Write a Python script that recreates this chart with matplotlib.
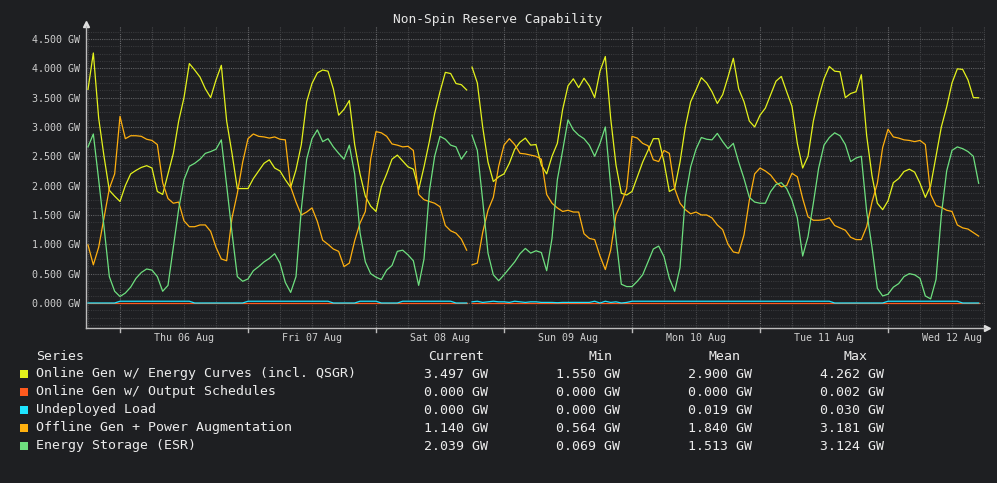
import numpy as np
import pandas as pd
import matplotlib
matplotlib.use('Agg')
import matplotlib.pyplot as plt
import matplotlib.dates as mdates
from matplotlib.patches import Rectangle

# hourly samples, Wed 05 Aug 18:00 -> Wed 12 Aug 17:00 (GW)
start = '2020-08-05 18:00'

energy_curves = [
    3.64, 4.26, 3.15, 2.50, 1.92, 1.82,
    1.73, 2.00, 2.20, 2.26, 2.31, 2.34, 2.30, 1.90, 1.85, 2.20, 2.55, 3.10, 3.50, 4.08, 3.97, 3.85, 3.65, 3.50, 3.80, 4.05, 3.10, 2.55, 1.95, 1.95,
    1.95, 2.12, 2.25, 2.38, 2.44, 2.30, 2.25, 2.10, 1.97, 2.27, 2.70, 3.43, 3.74, 3.92, 3.97, 3.95, 3.65, 3.20, 3.30, 3.45, 2.70, 2.20, 1.82, 1.65,
    1.56, 1.98, 2.20, 2.45, 2.52, 2.42, 2.32, 2.28, 1.93, 2.32, 2.75, 3.23, 3.60, 3.93, 3.91, 3.74, 3.72, 3.63, 4.02, 3.75, 3.00, 2.40, 2.07, 2.15,
    2.20, 2.38, 2.62, 2.74, 2.81, 2.69, 2.70, 2.35, 2.20, 2.50, 2.72, 3.30, 3.70, 3.82, 3.67, 3.83, 3.70, 3.50, 3.95, 4.20, 3.15, 2.35, 1.87, 1.84,
    1.90, 2.15, 2.40, 2.60, 2.80, 2.80, 2.40, 1.90, 1.95, 2.40, 3.00, 3.43, 3.63, 3.84, 3.75, 3.60, 3.40, 3.55, 3.85, 4.17, 3.65, 3.43, 3.10, 3.00,
    3.20, 3.32, 3.55, 3.78, 3.86, 3.60, 3.35, 2.72, 2.30, 2.50, 3.10, 3.50, 3.82, 4.03, 3.95, 3.94, 3.50, 3.57, 3.60, 3.89, 2.85, 2.17, 1.70, 1.59,
    1.74, 2.05, 2.12, 2.24, 2.28, 2.23, 2.04, 1.80, 2.00, 2.50, 3.00, 3.34, 3.75, 3.99, 3.98, 3.80, 3.50, 3.497,
]
output_schedules = [
    0.0, 0.0, 0.0, 0.0, 0.0, 0.0,
    0.0, 0.0, 0.0, 0.0, 0.0, 0.0, 0.0, 0.0, 0.0, 0.0, 0.0, 0.0, 0.0, 0.0, 0.0, 0.0, 0.0, 0.0, 0.0, 0.0, 0.0, 0.0, 0.0, 0.0,
    0.0, 0.0, 0.0, 0.0, 0.0, 0.0, 0.0, 0.0, 0.0, 0.0, 0.0, 0.0, 0.0, 0.0, 0.0, 0.0, 0.0, 0.0, 0.0, 0.0, 0.0, 0.0, 0.0, 0.0,
    0.0, 0.0, 0.0, 0.0, 0.0, 0.0, 0.0, 0.0, 0.0, 0.0, 0.0, 0.0, 0.0, 0.0, 0.0, 0.0, 0.0, 0.0, 0.0, 0.0, 0.0, 0.0, 0.0, 0.0,
    0.0, 0.0, 0.0, 0.0, 0.0, 0.0, 0.0, 0.0, 0.0, 0.0, 0.0, 0.0, 0.0, 0.0, 0.0, 0.0, 0.0, 0.0, 0.0, 0.0, 0.0, 0.0, 0.0, 0.0,
    0.0, 0.0, 0.0, 0.0, 0.0, 0.0, 0.0, 0.0, 0.0, 0.0, 0.0, 0.0, 0.0, 0.0, 0.0, 0.0, 0.0, 0.0, 0.0, 0.0, 0.0, 0.0, 0.0, 0.0,
    0.0, 0.0, 0.0, 0.0, 0.0, 0.0, 0.0, 0.0, 0.0, 0.0, 0.0, 0.0, 0.0, 0.0, 0.0, 0.0, 0.0, 0.0, 0.0, 0.0, 0.0, 0.0, 0.0, 0.0,
    0.0, 0.0, 0.0, 0.0, 0.0, 0.0, 0.0, 0.0, 0.0, 0.0, 0.0, 0.0, 0.0, 0.0, 0.0, 0.0, 0.0, 0.0,
]
undeployed_load = [
    0.0, 0.0, 0.0, 0.0, 0.0, 0.0,
    0.03, 0.03, 0.03, 0.03, 0.03, 0.03, 0.03, 0.03, 0.03, 0.03, 0.03, 0.03, 0.03, 0.03, 0.0, 0.0, 0.0, 0.0, 0.0, 0.0, 0.0, 0.0, 0.0, 0.0,
    0.03, 0.03, 0.03, 0.03, 0.03, 0.03, 0.03, 0.03, 0.03, 0.03, 0.03, 0.03, 0.03, 0.03, 0.03, 0.03, 0.0, 0.0, 0.0, 0.0, 0.0, 0.03, 0.03, 0.03,
    0.03, 0.0, 0.0, 0.0, 0.0, 0.03, 0.03, 0.03, 0.03, 0.03, 0.03, 0.03, 0.03, 0.03, 0.03, 0.0, 0.0, 0.0, 0.02, 0.03, 0.01, 0.02, 0.03, 0.02,
    0.02, 0.01, 0.03, 0.02, 0.01, 0.02, 0.02, 0.01, 0.01, 0.01, 0.005, 0.01, 0.01, 0.01, 0.01, 0.01, 0.01, 0.03, 0.0, 0.03, 0.01, 0.02, 0.0, 0.01,
    0.03, 0.03, 0.03, 0.03, 0.03, 0.03, 0.03, 0.03, 0.03, 0.03, 0.03, 0.03, 0.03, 0.03, 0.03, 0.03, 0.03, 0.03, 0.03, 0.03, 0.03, 0.03, 0.03, 0.03,
    0.03, 0.03, 0.03, 0.03, 0.03, 0.03, 0.03, 0.03, 0.03, 0.03, 0.03, 0.03, 0.03, 0.03, 0.0, 0.0, 0.0, 0.0, 0.0, 0.0, 0.0, 0.0, 0.0, 0.0,
    0.03, 0.03, 0.03, 0.03, 0.03, 0.03, 0.03, 0.03, 0.03, 0.03, 0.03, 0.03, 0.03, 0.03, 0.0, 0.0, 0.0, 0.0,
]
offline_gen = [
    0.99, 0.65, 0.95, 1.45, 1.95, 2.20,
    3.18, 2.80, 2.85, 2.85, 2.84, 2.79, 2.77, 2.70, 2.05, 1.78, 1.70, 1.72, 1.40, 1.30, 1.30, 1.33, 1.33, 1.22, 0.95, 0.75, 0.72, 1.45, 1.87, 2.40,
    2.80, 2.88, 2.84, 2.83, 2.81, 2.83, 2.79, 2.78, 1.98, 1.72, 1.50, 1.55, 1.62, 1.39, 1.07, 1.00, 0.92, 0.88, 0.62, 0.68, 1.06, 1.36, 1.56, 2.45,
    2.92, 2.90, 2.84, 2.71, 2.69, 2.66, 2.67, 2.60, 1.85, 1.76, 1.73, 1.70, 1.64, 1.32, 1.23, 1.19, 1.09, 0.90, 0.65, 0.68, 1.20, 1.58, 1.80, 2.33,
    2.69, 2.80, 2.70, 2.55, 2.54, 2.52, 2.50, 2.45, 1.85, 1.70, 1.62, 1.56, 1.58, 1.55, 1.55, 1.18, 1.10, 1.08, 0.80, 0.57, 0.90, 1.50, 1.70, 1.95,
    2.84, 2.81, 2.72, 2.68, 2.44, 2.41, 2.60, 2.55, 1.95, 1.70, 1.59, 1.52, 1.55, 1.50, 1.50, 1.45, 1.33, 1.25, 1.00, 0.87, 0.85, 1.16, 1.75, 2.20,
    2.30, 2.25, 2.18, 2.06, 1.98, 2.00, 2.21, 2.15, 1.78, 1.47, 1.41, 1.41, 1.42, 1.45, 1.32, 1.28, 1.24, 1.12, 1.08, 1.08, 1.30, 1.72, 2.04, 2.65,
    2.96, 2.83, 2.81, 2.78, 2.77, 2.75, 2.77, 2.70, 1.85, 1.66, 1.63, 1.58, 1.56, 1.33, 1.28, 1.26, 1.20, 1.14,
]
energy_storage = [
    2.66, 2.88, 2.10, 1.30, 0.45, 0.20,
    0.11, 0.17, 0.27, 0.42, 0.52, 0.58, 0.56, 0.45, 0.20, 0.30, 0.95, 1.60, 2.10, 2.33, 2.38, 2.45, 2.55, 2.58, 2.62, 2.78, 2.00, 1.20, 0.45, 0.37,
    0.41, 0.55, 0.62, 0.70, 0.76, 0.84, 0.68, 0.35, 0.18, 0.45, 1.60, 2.45, 2.80, 2.95, 2.75, 2.80, 2.66, 2.55, 2.45, 2.69, 2.20, 1.20, 0.70, 0.50,
    0.44, 0.40, 0.56, 0.64, 0.88, 0.90, 0.82, 0.72, 0.30, 0.75, 1.90, 2.50, 2.84, 2.79, 2.69, 2.66, 2.45, 2.58, 2.86, 2.60, 1.75, 0.85, 0.48, 0.38,
    0.48, 0.59, 0.70, 0.84, 0.93, 0.85, 0.89, 0.86, 0.55, 1.10, 2.10, 2.60, 3.12, 2.95, 2.86, 2.80, 2.69, 2.50, 2.72, 3.00, 2.00, 1.10, 0.32, 0.28,
    0.28, 0.37, 0.48, 0.70, 0.92, 0.97, 0.79, 0.42, 0.20, 0.60, 1.80, 2.32, 2.62, 2.82, 2.79, 2.78, 2.89, 2.75, 2.63, 2.72, 2.40, 2.12, 1.80, 1.72,
    1.70, 1.70, 1.90, 2.02, 2.05, 1.95, 1.75, 1.45, 0.80, 1.13, 1.70, 2.30, 2.69, 2.82, 2.90, 2.85, 2.70, 2.41, 2.47, 2.50, 1.56, 0.95, 0.25, 0.12,
    0.15, 0.27, 0.33, 0.45, 0.50, 0.48, 0.42, 0.12, 0.07, 0.40, 1.50, 2.25, 2.60, 2.66, 2.63, 2.58, 2.50, 2.04,
]

# no data for a short while on Sat evening
gap_time = '2020-08-08 17:30'

series_names = [
    'Online Gen w/ Energy Curves (incl. QSGR)',
    'Online Gen w/ Output Schedules',
    'Undeployed Load',
    'Offline Gen + Power Augmentation',
    'Energy Storage (ESR)',
]
series_colors = ['#e4f21c', '#ff5a1e', '#1ee4ff', '#ffb00f', '#6ee07f']
# Current, Min, Mean, Max as shown in the legend
series_stats = [
    ['3.497 GW', '1.550 GW', '2.900 GW', '4.262 GW'],
    ['0.000 GW', '0.000 GW', '0.000 GW', '0.002 GW'],
    ['0.000 GW', '0.000 GW', '0.019 GW', '0.030 GW'],
    ['1.140 GW', '0.564 GW', '1.840 GW', '3.181 GW'],
    ['2.039 GW', '0.069 GW', '1.513 GW', '3.124 GW'],
]

times = pd.date_range(start, periods=len(energy_curves), freq='h')
df = pd.DataFrame({
    series_names[0]: energy_curves,
    series_names[1]: output_schedules,
    series_names[2]: undeployed_load,
    series_names[3]: offline_gen,
    series_names[4]: energy_storage,
}, index=times)
df.loc[pd.Timestamp(gap_time)] = np.nan
df = df.sort_index()

bg = '#1e1f22'
W, H = 997, 483
plt.rcParams['font.family'] = ['DejaVu Sans Mono']
fig = plt.figure(figsize=(W / 100, H / 100), dpi=100, facecolor=bg)
ax = fig.add_axes([86 / W, 1 - 328 / H, (985 - 86) / W, (328 - 26) / H])
ax.set_facecolor(bg)

for name, color in zip(series_names, series_colors):
    ax.plot(df.index, df[name], color=color, lw=0.9, zorder=3)

t0 = pd.Timestamp('2020-08-06')
ax.set_xlim(t0 + pd.Timedelta(hours=(86 - 120) * 0.1875), t0 + pd.Timedelta(hours=(985 - 120) * 0.1875))
ax.set_ylim(-0.426, 4.72)

# y axis
ax.set_yticks(np.arange(0, 4.51, 0.5))
ax.set_yticks(np.arange(-0.375, 4.7, 0.125), minor=True)
ax.set_yticklabels([f'{v:.3f} GW' for v in np.arange(0, 4.51, 0.5)])
ax.grid(axis='y', which='major', color='#5f6063', ls=(0, (1, 1)), lw=0.8, zorder=1)
ax.grid(axis='y', which='minor', color='#38393c', ls=(0, (1, 1)), lw=0.8, zorder=1)

# x axis: labels at noon, grid every 6 hours
ax.xaxis.set_major_locator(mdates.HourLocator(byhour=12))
ax.xaxis.set_major_formatter(mdates.DateFormatter('%a %d %b'))
ax.xaxis.set_minor_locator(mdates.HourLocator(byhour=[6, 18]))
ax.grid(axis='x', which='both', color='#47484b', ls=(0, (1, 1)), lw=0.8, zorder=1)
midnights = pd.date_range('2020-08-06', '2020-08-12', freq='D')
for d in midnights:
    ax.axvline(d, color='#6a6b6e', ls=(0, (1, 1)), lw=0.8, zorder=1)
    ax.plot([d, d], [0, -0.012], color='#bdbdbd', lw=1, transform=ax.get_xaxis_transform(), clip_on=False)

ax.tick_params(axis='both', which='both', length=0, colors='#cfcfcf', labelsize=7.2)
ax.tick_params(axis='y', pad=4.3)
ax.tick_params(axis='x', pad=3.6)

for s in ['top', 'right']:
    ax.spines[s].set_visible(False)
for s in ['left', 'bottom']:
    ax.spines[s].set_color('#bdbdbd')
    ax.spines[s].set_linewidth(1)
ax.plot([0], [1 + 2 / 302], marker='^', ms=4, color='#e0e0e0', transform=ax.transAxes, clip_on=False)
ax.plot([1 + 2 / 899], [0], marker='>', ms=4, color='#e0e0e0', transform=ax.transAxes, clip_on=False)

fig.text(498 / W, 1 - 19 / H, 'Non-Spin Reserve Capability', ha='center', va='center',
         fontsize=9.3, color='#e6e6e6')

# legend table
txt = '#ececec'
fs = 9.5
hdr_y = 356
fig.text(36 / W, 1 - hdr_y / H, 'Series', ha='left', va='center', fontsize=fs, color=txt)
for label, cx in zip(['Current', 'Min', 'Mean', 'Max'], [456, 600, 724, 855]):
    fig.text(cx / W, 1 - hdr_y / H, label, ha='center', va='center', fontsize=fs, color=txt)
val_right = [488, 620, 752, 884]
for i, (name, color, stats) in enumerate(zip(series_names, series_colors, series_stats)):
    y = 374 + 18 * i
    fig.add_artist(Rectangle((20 / W, 1 - (y + 4) / H), 8 / W, 8 / H, transform=fig.transFigure,
                             facecolor=color, edgecolor='none'))
    fig.text(36 / W, 1 - y / H, name, ha='left', va='center', fontsize=fs, color=txt)
    for v, xr in zip(stats, val_right):
        fig.text(xr / W, 1 - y / H, v, ha='right', va='center', fontsize=fs, color=txt)

fig.savefig('out.png', dpi=100, facecolor=bg)
